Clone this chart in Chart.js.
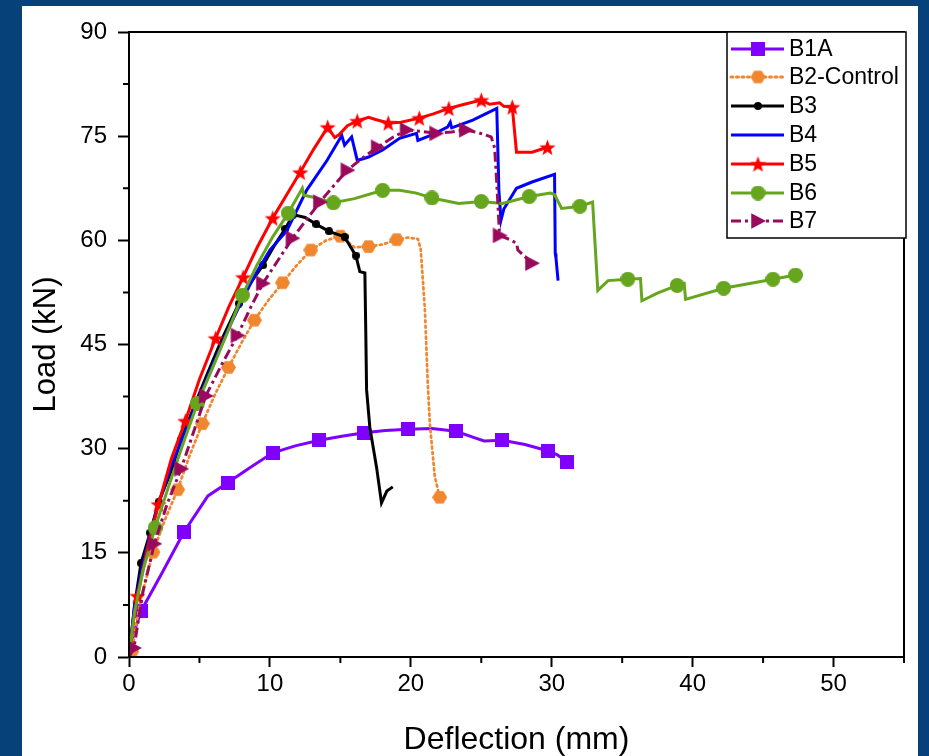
<!DOCTYPE html>
<html><head><meta charset="utf-8">
<script src="https://cdn.jsdelivr.net/npm/chart.js@4.4.1/dist/chart.umd.min.js"></script>
<style>
html,body{margin:0;padding:0;background:#064279;width:929px;height:756px;overflow:hidden}
#panel{position:absolute;left:22px;top:6px;width:896px;height:750px;background:#fff}
canvas{display:block}
</style></head><body>
<div id="panel"><canvas id="c" width="896" height="750"></canvas></div>
<script>
// ---- data (deflection in mm, load in kN) ----
const xTicks = [0, 10, 20, 30, 40, 50];
const yTicks = [0, 15, 30, 45, 60, 75, 90];
const seriesNames = ['B1A', 'B2-Control', 'B3', 'B4', 'B5', 'B6', 'B7'];

const b1aD = [0, 0.3, 0.85, 2.4, 3.9, 5.6, 7.0, 8.6, 10.2, 11.8, 13.5, 15.1, 16.7, 18.2, 19.8, 21.5, 23.2, 24.5, 25.2, 26.5, 28.1, 29.7, 30.4, 31.1];
const b1aL = [0, 3.2, 6.6, 12.3, 18.0, 23.2, 25.1, 27.3, 29.4, 30.4, 31.2, 31.8, 32.3, 32.6, 32.8, 32.9, 32.5, 31.6, 31.1, 31.2, 30.6, 29.7, 29.1, 28.1];
const b1aMarks = [2, 4, 6, 8, 10, 12, 14, 16, 19, 21, 23];

const b2D = [0, 0.2, 0.8, 1.7, 2.6, 3.45, 4.3, 5.2, 6.1, 7.06, 8.0, 8.9, 9.9, 10.9, 11.9, 12.9, 14.0, 15.0, 16.0, 17.0, 18.0, 19.0, 19.8, 20.5, 20.7, 21.0, 21.2, 21.35, 21.7, 22.05];
const b2L = [0, 0.8, 8.0, 15.1, 20.0, 24.1, 29.0, 33.6, 37.8, 41.7, 45.3, 48.5, 51.4, 53.9, 56.4, 58.6, 60.0, 60.6, 59.0, 59.1, 59.4, 60.1, 60.4, 60.2, 58.8, 50.0, 39.5, 33.6, 26.0, 23.0];
const b2Marks = [1, 3, 5, 7, 9, 11, 13, 15, 17, 19, 21, 29];

const b3D = [0, 0.4, 0.85, 1.5, 2.1, 3.0, 3.7, 4.6, 5.5, 6.6, 7.8, 8.6, 9.5, 10.3, 11.1, 11.65, 12.5, 13.3, 14.2, 15.3, 16.1, 16.38, 16.74, 16.8, 16.86, 17.09, 17.57, 17.92, 18.3, 18.72];
const b3L = [0, 7.5, 13.5, 17.9, 22.3, 26.8, 31.3, 36.0, 40.5, 45.8, 50.9, 53.8, 56.4, 59.2, 61.7, 63.7, 63.3, 62.3, 61.3, 60.5, 57.8, 55.5, 55.3, 47.3, 38.5, 33.1, 27.3, 22.2, 23.9, 24.5];
const b3Marks = [2, 3, 4, 5, 6, 10, 12, 14, 15, 17, 18, 19, 20];

const b4D = [0, 0.4, 1.0, 2.0, 3.0, 4.0, 5.0, 6.0, 7.0, 8.0, 9.0, 10.0, 11.2, 12.6, 14.05, 15.1, 15.3, 15.8, 16.2, 17.0, 18.0, 19.2, 20.4, 20.5, 21.5, 22.6, 22.8, 22.9, 24.4, 26.1, 26.25, 26.4, 26.6, 27.5, 28.6, 30.2, 30.25, 30.3, 30.45];
const b4L = [0, 7.5, 13.5, 21.5, 27.5, 32.5, 37.5, 42.3, 47.0, 51.3, 55.2, 58.6, 61.4, 67.2, 71.5, 75.1, 73.7, 74.9, 71.5, 72.0, 73.0, 74.7, 75.4, 74.4, 75.2, 76.3, 77.0, 76.2, 77.3, 79.0, 67.2, 62.9, 64.5, 67.5, 68.4, 69.5, 58.1, 57.5, 54.2];

const b5D = [0, 0.3, 0.6, 1.3, 2.1, 3.0, 4.0, 5.0, 6.15, 7.1, 8.1, 9.1, 10.2, 11.2, 12.15, 13.1, 14.1, 14.6, 14.9, 15.5, 16.2, 17.0, 17.5, 18.4, 19.3, 20.6, 21.6, 22.7, 23.8, 25.0, 25.6, 26.3, 26.6, 27.2, 27.5, 28.6, 29.7];
const b5L = [0, 5.0, 8.8, 15.5, 22.0, 28.5, 34.0, 40.0, 45.9, 50.5, 54.7, 59.0, 63.2, 66.6, 69.8, 73.1, 76.3, 74.8, 75.2, 76.5, 77.2, 77.7, 77.4, 76.9, 77.0, 77.6, 78.2, 79.0, 79.6, 80.2, 79.6, 79.8, 79.3, 79.2, 72.7, 72.7, 73.4];
const b5Marks = [2, 4, 6, 8, 10, 12, 14, 16, 20, 23, 25, 27, 29, 33, 36];

const b6D = [0, 0.4, 1.0, 1.85, 2.8, 3.8, 4.85, 5.9, 7.0, 8.05, 9.1, 10.2, 11.3, 12.3, 12.4, 13.1, 14.5, 16.0, 18.0, 19.2, 20.4, 21.5, 23.4, 25.0, 26.5, 28.4, 29.9, 30.2, 30.7, 32.0, 32.9, 33.27, 34.0, 35.4, 36.3, 36.4, 37.5, 38.9, 39.4, 39.5, 42.2, 45.7, 47.3];
const b6L = [0, 6.5, 12.5, 18.6, 24.5, 30.5, 36.5, 41.5, 46.8, 52.1, 56.5, 60.5, 63.9, 67.5, 66.5, 66.2, 65.4, 66.0, 67.2, 67.2, 66.8, 66.1, 65.3, 65.6, 65.3, 66.3, 66.8, 66.6, 64.6, 64.9, 65.5, 52.8, 54.2, 54.4, 54.5, 51.3, 52.4, 53.5, 53.8, 51.5, 53.1, 54.4, 55.0];
const b6Marks = [3, 6, 9, 12, 16, 18, 21, 23, 25, 29, 33, 37, 40, 41, 42];

const b7D = [0, 0.35, 1.0, 1.8, 2.7, 3.7, 4.6, 5.45, 6.6, 7.7, 8.6, 9.5, 10.6, 11.6, 12.6, 13.55, 14.5, 15.5, 16.6, 17.65, 18.7, 19.7, 20.7, 21.8, 22.9, 23.9, 24.8, 25.7, 25.95, 26.1, 26.3, 26.9, 27.5, 27.6, 28.6];
const b7L = [0, 1.3, 9.5, 16.3, 22.0, 27.1, 32.5, 37.6, 42.2, 46.3, 50.2, 53.8, 57.2, 60.3, 63.0, 65.5, 67.8, 70.1, 71.9, 73.4, 74.8, 75.9, 75.7, 75.4, 75.6, 75.9, 75.5, 74.9, 73.3, 68.2, 60.7, 60.2, 59.6, 58.6, 56.7];
const b7Marks = [1, 3, 5, 7, 9, 11, 13, 15, 17, 19, 21, 23, 25, 30, 34];

// ---- styling ----
const FONT = '"Liberation Sans", Arial, Helvetica, sans-serif';
const colors = ['#7f00ff', '#f0862e', '#000000', '#0000ff', '#ff0000', '#66a61e', '#990a5c'];

function makeMarker(shape, size, color) {
  const c = document.createElement('canvas');
  c.width = size; c.height = size;
  const g = c.getContext('2d');
  g.fillStyle = color;
  const r = size / 2;
  g.beginPath();
  if (shape === 'hex') {
    for (let i = 0; i < 6; i++) { const a = Math.PI / 3 * i; g.lineTo(r + r * Math.cos(a), r + r * 0.95 * Math.sin(a)); }
  } else if (shape === 'star') {
    for (let i = 0; i < 10; i++) { const a = -Math.PI / 2 + Math.PI / 5 * i; const rr = i % 2 ? r * 0.42 : r; g.lineTo(r + rr * Math.cos(a), r + 0.05 * size + rr * Math.sin(a)); }
  } else if (shape === 'tri') {
    g.moveTo(size * 0.08, size * 0.02); g.lineTo(size, r); g.lineTo(size * 0.08, size * 0.98);
  } else if (shape === 'sq') {
    g.rect(0, 0, size, size);
  } else if (shape === 'dot') {
    g.arc(r, r, r, 0, Math.PI * 2);
  }
  g.closePath(); g.fill();
  return c;
}
const markers = [
  makeMarker('sq', 14, colors[0]),
  makeMarker('hex', 15, colors[1]),
  makeMarker('dot', 8, colors[2]),
  null,
  makeMarker('star', 17, colors[4]),
  makeMarker('dot', 15, colors[5]),
  makeMarker('tri', 16, colors[6])
];
const dashes = [[], [2, 3.5], [], [], [], [], [10, 4, 3, 4]];

function pts(d, l) { return d.map((v, i) => ({ x: v, y: l[i] })); }
const allD = [b1aD, b2D, b3D, b4D, b5D, b6D, b7D];
const allL = [b1aL, b2L, b3L, b4L, b5L, b6L, b7L];
const allMarks = [b1aMarks, b2Marks, b3Marks, [], b5Marks, b6Marks, b7Marks];

const datasets = seriesNames.map((name, i) => ({
  label: name,
  data: pts(allD[i], allL[i]),
  showLine: true,
  borderColor: colors[i],
  backgroundColor: colors[i],
  borderWidth: i === 1 ? 2.7 : 3,
  borderDash: dashes[i],
  borderCapStyle: i === 1 ? 'round' : 'butt',
  tension: 0,
  pointStyle: markers[i] || 'circle',
  pointRadius: (ctx) => allMarks[i].includes(ctx.dataIndex) ? 6 : 0,
  pointHoverRadius: 0,
  pointBorderWidth: 0,
  order: 7 - i
}));

const framePlugin = {
  id: 'frame',
  afterDraw(chart) {
    const { ctx, chartArea: a, scales } = chart;
    ctx.save();
    ctx.strokeStyle = '#000';
    ctx.lineWidth = 2;
    ctx.strokeRect(a.left, a.top, a.right - a.left, a.bottom - a.top);
    ctx.beginPath();
    [5, 15, 25, 35, 45, 55].forEach(v => {
      const px = scales.x.getPixelForValue(v);
      ctx.moveTo(px, a.bottom); ctx.lineTo(px, a.bottom + 6);
    });
    [7.5, 22.5, 37.5, 52.5, 67.5, 82.5].forEach(v => {
      const py = scales.y.getPixelForValue(v);
      ctx.moveTo(a.left, py); ctx.lineTo(a.left - 6, py);
    });
    ctx.stroke();

    // legend
    const bx = 705, by = a.top, bw = a.right - bx + 2, bh = 206;
    ctx.fillStyle = '#fff';
    ctx.fillRect(bx, by, bw, bh);
    ctx.lineWidth = 1.5;
    ctx.strokeRect(bx, by, bw, bh);
    const rowY = [43, 71, 100, 129, 158, 187, 215];
    ctx.font = '23px ' + FONT;
    ctx.textBaseline = 'middle';
    seriesNames.forEach((name, i) => {
      const y = rowY[i];
      ctx.strokeStyle = colors[i];
      ctx.lineWidth = 3;
      ctx.setLineDash(dashes[i]);
      ctx.lineCap = i === 1 ? 'round' : 'butt';
      ctx.beginPath(); ctx.moveTo(709, y); ctx.lineTo(762, y); ctx.stroke();
      ctx.setLineDash([]);
      if (markers[i]) {
        const m = markers[i];
        ctx.drawImage(m, 736 - m.width / 2, y - m.height / 2);
      }
      ctx.fillStyle = '#000';
      ctx.fillText(name, 767, y + 1);
    });
    ctx.restore();
  }
};

new Chart(document.getElementById('c'), {
  type: 'scatter',
  data: { datasets },
  options: {
    responsive: false,
    animation: false,
    events: [],
    layout: { padding: { top: 26, right: 14, left: 0, bottom: 0 } },
    plugins: { legend: { display: false }, tooltip: { enabled: false } },
    scales: {
      x: {
        type: 'linear', min: 0, max: 55,
        afterBuildTicks: (s) => { s.ticks = xTicks.map(v => ({ value: v })); },
        afterFit: (s) => { s.height = 99; },
        grid: { drawOnChartArea: false, drawTicks: true, tickLength: 10, tickColor: '#000', tickWidth: 2, color: '#000' },
        border: { display: true, color: '#000', width: 2 },
        ticks: { color: '#000', font: { family: FONT, size: 24 }, padding: 3, maxRotation: 0 },
        title: { display: true, text: 'Deflection (mm)', color: '#000', font: { family: FONT, size: 32, lineHeight: 1 }, padding: { top: 0, bottom: 0 } }
      },
      y: {
        type: 'linear', min: 0, max: 90,
        afterBuildTicks: (s) => { s.ticks = yTicks.map(v => ({ value: v })); },
        afterFit: (s) => { s.width = 107; },
        grid: { drawOnChartArea: false, drawTicks: true, tickLength: 11, tickColor: '#000', tickWidth: 2, color: '#000' },
        border: { display: true, color: '#000', width: 2 },
        ticks: { color: '#000', font: { family: FONT, size: 24 }, padding: 11 },
        title: { display: true, text: 'Load (kN)', color: '#000', font: { family: FONT, size: 31, lineHeight: 1 }, padding: { top: 9, bottom: 0 } }
      }
    }
  },
  plugins: [framePlugin]
});
</script>
</body></html>
